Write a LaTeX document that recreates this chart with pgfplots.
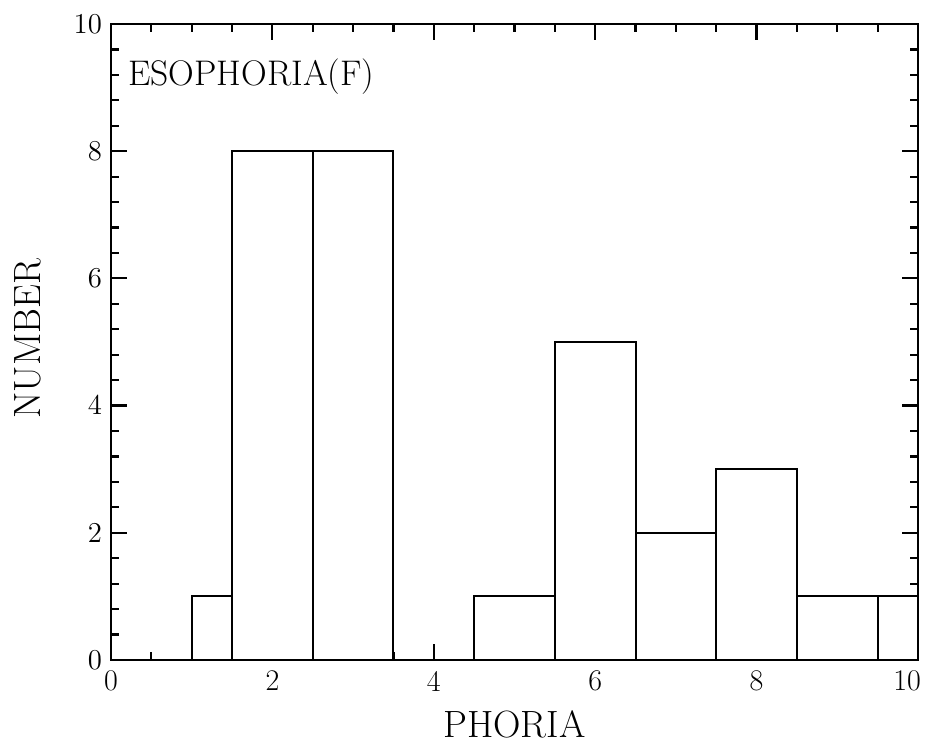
\documentclass[border=0pt]{standalone}
\usepackage{pgfplots}
\pgfplotsset{compat=1.18}
\begin{document}
\begin{tikzpicture}
\begin{axis}[
  scale only axis,
  width=403.5pt, height=318pt,
  xmin=0, xmax=10, ymin=0, ymax=10,
  xtick={0,2,...,10}, ytick={0,2,...,10},
  xticklabels={0,2,4,6,8,\makebox[0pt][r]{10\kern-1.5pt}},
  minor x tick num=3, minor y tick num=4,
  tick align=inside,
  major tick length=8pt, minor tick length=4pt,
  axis line style={line width=1.4pt},
  every tick/.style={black, line width=1.1pt},
  tick label style={font=\fontsize{15}{17}\selectfont},
  xticklabel style={yshift=-2pt},
  yticklabel style={xshift=-1pt},
  xlabel={PHORIA}, ylabel={NUMBER},
  label style={font=\fontsize{19}{22}\selectfont},
  xlabel style={at={(axis description cs:0.5,-0.1226)}, anchor=base},
  ylabel style={at={(axis description cs:-0.1035,0.505)}, anchor=center},
  clip=false,
]
\addplot[ybar interval, fill=white, draw=black, line width=1pt] coordinates {
  (1,1) (1.5,8) (2.5,8) (3.5,0) (4.5,1) (5.5,5) (6.5,2) (7.5,3) (8.5,1) (9.5,1) (10,0)
};
\node[anchor=base west, inner sep=0pt, font=\fontsize{17.8}{20}\selectfont] at (rel axis cs:0.021,0.904) {ESOPHORIA(F)};
\end{axis}
\path (current axis.south west) ++(-55.5pt,-44pt) (current axis.north east) ++(5pt,12pt);
\end{tikzpicture}
\end{document}
